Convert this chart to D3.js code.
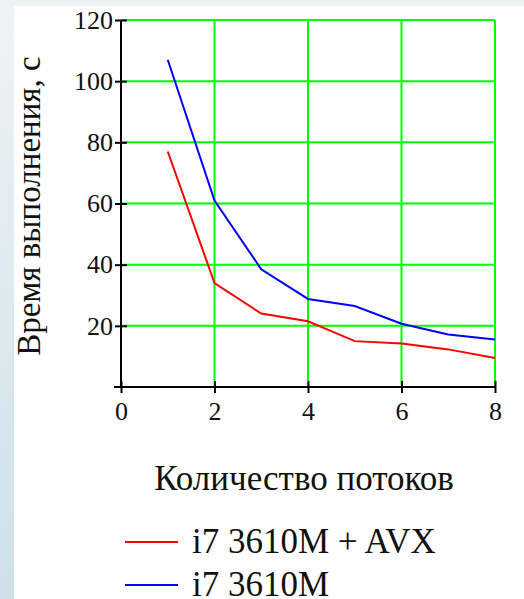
<!DOCTYPE html>
<html><head><meta charset="utf-8"><script src="https://d3js.org/d3.v7.min.js"></script></head>
<body style="margin:0">
<script>
const threads = [1, 2, 3, 4, 5, 6, 7, 8];
const avxTimes = [77, 34, 24, 21.5, 15, 14.2, 12.3, 9.5];
const plainTimes = [107, 61, 38.5, 28.8, 26.5, 20.7, 17.2, 15.5];
const xTicks = [0, 2, 4, 6, 8];
const yTicks = [20, 40, 60, 80, 100, 120];
const seriesNames = ["i7 3610M + AVX", "i7 3610M"];
const seriesColors = ["#ff0000", "#0000ff"];

const W = 524, H = 599;
const plotLeft = 121, plotRight = 495, plotTop = 20, plotBottom = 387;
const fontName = "'Liberation Serif'";
const ink = "#111";

const svg = d3.select("body").append("svg")
  .attr("width", W)
  .attr("height", H)
  .style("display", "block")
  .style("font-family", fontName);

// background frame
const grad = svg.append("defs").append("linearGradient")
  .attr("id", "side").attr("x1", 0).attr("y1", 0).attr("x2", 0).attr("y2", 1);
grad.append("stop").attr("offset", 0).attr("stop-color", "#eef3f6");
grad.append("stop").attr("offset", 1).attr("stop-color", "#cde0e8");
svg.append("rect").attr("width", W).attr("height", H).attr("fill", "#ffffff");
svg.append("rect").attr("width", W).attr("height", 6).attr("fill", "#eef3f6");
svg.append("rect").attr("width", 14).attr("height", H).attr("fill", "url(#side)");

const x = d3.scaleLinear().domain([0, 8]).range([plotLeft, plotRight]);
const y = d3.scaleLinear().domain([0, 120]).range([plotBottom, plotTop]);

// green grid
svg.append("g").selectAll("line")
  .data(xTicks.filter(d => d > 0)).enter().append("line")
  .attr("x1", d => x(d)).attr("x2", d => x(d))
  .attr("y1", y(120)).attr("y2", y(0))
  .attr("stroke", "#00ff00").attr("stroke-width", 2);
svg.append("g").selectAll("line")
  .data(yTicks).enter().append("line")
  .attr("x1", x(0)).attr("x2", x(8))
  .attr("y1", d => y(d)).attr("y2", d => y(d))
  .attr("stroke", "#00ff00").attr("stroke-width", 2);

// axes
const xAxis = svg.append("g")
  .attr("transform", "translate(0," + y(0) + ")")
  .call(d3.axisBottom(x).tickValues(xTicks).tickSizeInner(6).tickSizeOuter(0).tickPadding(9));
xAxis.selectAll(".tick line").attr("y1", -6);
const yAxis = svg.append("g")
  .attr("transform", "translate(" + x(0) + ",0)")
  .call(d3.axisLeft(y).tickValues(yTicks).tickSizeInner(6).tickSizeOuter(0).tickPadding(2));
yAxis.selectAll(".tick line").attr("x1", 6);
yAxis.select(".domain").attr("d", "M0," + y(120) + "V" + y(0));
xAxis.select(".domain").attr("d", "M" + (x(0) - 7) + ",0H" + x(8));
svg.selectAll(".domain, .tick line").attr("stroke", "#000").attr("stroke-width", 2);
xAxis.attr("font-family", null).attr("font-size", null);
yAxis.attr("font-family", null).attr("font-size", null);
svg.selectAll(".tick text")
  .style("font-family", fontName).style("font-size", "26px").attr("fill", ink);
xAxis.selectAll(".tick text").attr("dy", "0.71em");

// lines
const line = d3.line().x((d, i) => x(threads[i])).y(d => y(d));
[avxTimes, plainTimes].forEach(function(vals, i) {
  svg.append("path")
    .datum(vals)
    .attr("fill", "none")
    .attr("stroke", seriesColors[i])
    .attr("stroke-width", 2)
    .attr("d", line);
});

// titles
svg.append("text")
  .text("Время выполнения, с")
  .attr("transform", "translate(40,206) rotate(-90)")
  .attr("text-anchor", "middle")
  .style("font-family", fontName).style("font-size", "33px").attr("fill", ink);
svg.append("text")
  .text("Количество потоков")
  .attr("x", 304).attr("y", 490)
  .attr("text-anchor", "middle")
  .style("font-family", fontName).style("font-size", "35px").attr("fill", ink);

// legend
seriesNames.forEach(function(name, i) {
  const ly = 542 + 43 * i;
  svg.append("line")
    .attr("x1", 125).attr("x2", 178)
    .attr("y1", ly).attr("y2", ly)
    .attr("stroke", seriesColors[i]).attr("stroke-width", 2);
  svg.append("text")
    .text(name)
    .attr("x", 192).attr("y", ly + 11)
    .style("font-family", fontName).style("font-size", "35px").attr("fill", ink);
});
</script></body></html>
